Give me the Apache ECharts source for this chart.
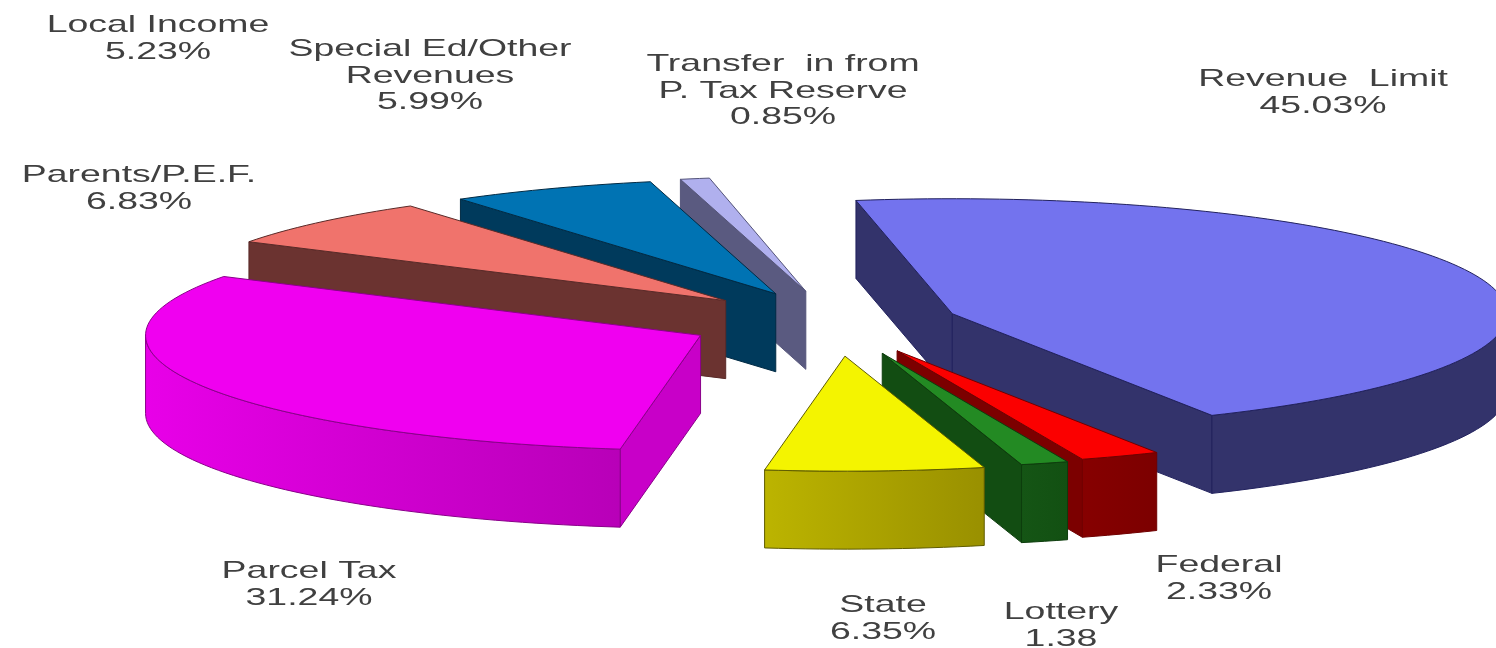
<!DOCTYPE html>
<html>
<head>
<meta charset="utf-8">
<title>Revenue sources</title>
<style>html,body{margin:0;padding:0;background:#fff}#chart{width:1496px;height:648px}</style>
<script src="https://cdn.jsdelivr.net/npm/echarts@6/dist/echarts.min.js"></script>
</head>
<body>
<div id="chart"></div>
<script>
// Revenue shares, in the clockwise order the slices are laid out
const sliceNames = ['Revenue  Limit', 'Federal', 'Lottery', 'State', 'Parcel Tax', 'Parents/P.E.F.', 'Special Ed/Other\nRevenues', 'Transfer  in from\nP. Tax Reserve'];
const sliceValues = [45.03, 2.33, 1.38, 6.35, 31.24, 6.83, 5.99, 0.85];
const sliceValueText = ['45.03%', '2.33%', '1.38', '6.35%', '31.24%', '6.83%', '5.99%', '0.85%'];

// Listed in the key but has no wedge of its own
const extraName = 'Local Income';
const extraValueText = '5.23%';

// Back-to-front painting order (indices into sliceValues)
const paintOrder = [7, 6, 5, 4, 0, 1, 2, 3];

// Pie geometry
const pie = { cx: 836, cy: 322, rx: 555, ry: 115, depth: 78, startDeg: -100 };
const explode = [123, 152, 158, 165, 150, 151, 149, 151];

// Top face, cut-face and rim shades, and outlines
const topColors = ['#7373ee', '#fb0000', '#238a23', '#f4f400', '#f000f0', '#f0736c', '#0073b3', '#b0b0ee'];
const cutColors = ['#33336b', '#7c0000', '#124d12', '#a5a000', '#c800c8', '#6b3330', '#003a5c', '#5a5a80'];
const rimFrom = ['#33336b', '#860000', '#155515', '#bcb400', '#e800e8', '#6b3330', '#003a5c', '#5a5a80'];
const rimTo = ['#33336b', '#7c0000', '#125012', '#999000', '#b800b8', '#6b3330', '#003a5c', '#5a5a80'];
const edgeColors = ['#22225e', '#700000', '#0d3d0d', '#5f5c00', '#8a008a', '#5a2a28', '#002a44', '#55557a'];

// Label anchors: centre of the text block
const labelSpots = [[1323, 93], [1219, 579], [1061, 626], [883, 619], [309, 585], [139, 189], [430, 76], [783, 91]];
const extraSpot = [158, 39];

const total = sliceValues.reduce((a, b) => a + b, 0);
const rad = d => d * Math.PI / 180;
const point = (o, deg, drop) => [
  o[0] + pie.rx * Math.cos(rad(deg)),
  o[1] + pie.ry * Math.sin(rad(deg)) + (drop || 0)
];
const arcPoints = (o, from, to, drop) => {
  const pts = [];
  const steps = Math.max(2, Math.ceil(Math.abs(to - from) / 1.5));
  for (let i = 0; i <= steps; i++) pts.push(point(o, from + (to - from) * i / steps, drop));
  return pts;
};

// A cut face is seen only when the top face lies above that edge on screen
function faceVisible(edgeDeg, midDeg) {
  const e = point([0, 0], edgeDeg);
  const s = point([0, 0], midDeg);
  const crossDown = e[0];
  const crossSlice = e[0] * s[1] - e[1] * s[0];
  return crossDown * crossSlice < 0;
}

function renderSlice(params, api) {
  const idx = api.value(0);
  const before = sliceValues.slice(0, idx).reduce((a, b) => a + b, 0);
  const start = pie.startDeg + before / total * 360;
  const end = start + api.value(1) / total * 360;
  const mid = (start + end) / 2;
  const d = explode[idx];
  const apex = [
    pie.cx + d * Math.cos(rad(mid)),
    pie.cy + d * pie.ry / pie.rx * Math.sin(rad(mid))
  ];
  const edge = { stroke: edgeColors[idx], lineWidth: 1, lineJoin: 'round' };
  const children = [];
  const poly = (points, fill) => children.push({
    type: 'polygon', shape: { points }, style: Object.assign({ fill }, edge)
  });

  [start, end].forEach(deg => {
    if (!faceVisible(deg, mid)) return;
    const p = point(apex, deg);
    poly([apex, p, [p[0], p[1] + pie.depth], [apex[0], apex[1] + pie.depth]], cutColors[idx]);
  });

  // Outer rim: only the stretch that faces the viewer
  const a = Math.max(start, 0);
  const b = Math.min(end, 180);
  if (b > a) {
    const upper = arcPoints(apex, a, b, 0);
    const lower = arcPoints(apex, b, a, pie.depth);
    poly(upper.concat(lower), new echarts.graphic.LinearGradient(0, 0, 1, 0, [
      { offset: 0, color: rimFrom[idx] }, { offset: 1, color: rimTo[idx] }
    ]));
  }

  poly([apex].concat(arcPoints(apex, start, end, 0)), topColors[idx]);
  return { type: 'group', children };
}

const labelStyle = (spot, text) => ({
  type: 'text',
  x: spot[0],
  y: spot[1],
  scaleX: 1.56,
  silent: true,
  style: {
    text,
    fill: '#404040',
    font: '24px "Liberation Sans", Arial, sans-serif',
    lineHeight: 26.5,
    align: 'center',
    verticalAlign: 'middle'
  }
});

const labels = sliceNames.map((n, i) => labelStyle(labelSpots[i], n + '\n' + sliceValueText[i]));
labels.push(labelStyle(extraSpot, extraName + '\n' + extraValueText));

const chart = echarts.init(document.getElementById('chart'), null, { renderer: 'canvas' });
chart.setOption({
  animation: false,
  backgroundColor: '#ffffff',
  graphic: { elements: labels },
  series: [{
    type: 'custom',
    coordinateSystem: 'none',
    clip: false,
    silent: true,
    renderItem: renderSlice,
    encode: { value: 1 },
    data: paintOrder.map(i => [i, sliceValues[i]])
  }]
});
</script>
</body>
</html>
